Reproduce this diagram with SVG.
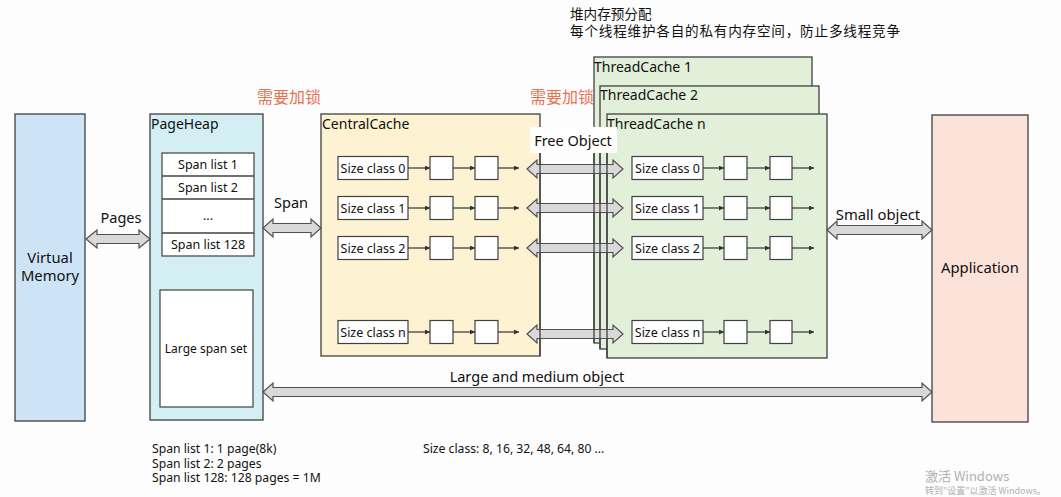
<svg xmlns="http://www.w3.org/2000/svg" width="1061" height="497" viewBox="0 0 1061 497">
<defs>
<style>
text{font-family:"Noto Sans","Noto Sans CJK SC",sans-serif;fill:#111}
.box{stroke:#404040;stroke-width:1.3}
.cell{fill:#ffffff;stroke:#404040;stroke-width:1.2}
.t12{font-size:12.5px}
.t14{font-size:14px}
.t15{font-size:14.8px}
.nt{font-size:12.2px}
.mid{text-anchor:middle}
.red{font-family:"Noto Sans CJK SC",sans-serif;font-size:16px;fill:#e8714f}
.cn{font-family:"Noto Sans CJK SC",sans-serif;font-size:13.6px;fill:#111}
.blk{fill:#d9d9d9;stroke:#505050;stroke-width:1.2;stroke-linejoin:miter}
.ln{stroke:#333;stroke-width:1.2;fill:none;marker-end:url(#ah)}
.edge{stroke:#404040;stroke-width:1.3}
.wm{font-family:"Noto Sans CJK SC",sans-serif;fill:#b0b0b0}
</style>
<marker id="ah" viewBox="0 0 6 6" refX="6" refY="3" markerWidth="5" markerHeight="5" markerUnits="userSpaceOnUse" orient="auto">
<path d="M0,0 L6,3 L0,6 Z" fill="#333"/>
</marker>
</defs>
<rect width="1061" height="497" fill="#fdfdfd"/>

<g id="top-notes">
<text class="cn" x="570" y="19">堆内存预分配</text>
<text class="cn" x="570" y="36" textLength="330" lengthAdjust="spacing">每个线程维护各自的私有内存空间，防止多线程竞争</text>
</g>
<g id="lock-labels">
<text class="red" x="257" y="103">需要加锁</text>
<text class="red" x="530" y="103">需要加锁</text>
</g>

<g id="virtual-memory">
<rect class="box" x="15" y="114" width="70" height="307" fill="#cde4f7"/>
<text class="t15 mid" x="50" y="263">Virtual</text>
<text class="t15 mid" x="50" y="281">Memory</text>
</g>

<g id="pageheap">
<rect class="box" x="150" y="114" width="113" height="306" fill="#d3eff4"/>
<text class="t14" x="151" y="129">PageHeap</text>
<rect class="cell" x="162" y="153" width="92" height="103"/>
<line class="edge" x1="162" y1="176" x2="254" y2="176"/>
<line class="edge" x1="162" y1="199" x2="254" y2="199"/>
<line class="edge" x1="162" y1="233" x2="254" y2="233"/>
<text class="t12 mid" x="208" y="169">Span list 1</text>
<text class="t12 mid" x="208" y="192">Span list 2</text>
<text class="t12 mid" x="208" y="220">...</text>
<text class="t12 mid" x="208" y="249">Span list 128</text>
<rect class="cell" x="160" y="290" width="93" height="117"/>
<text class="mid" style="font-size:12px" x="206" y="353">Large span set</text>
</g>

<g id="centralcache">
<rect class="box" x="321" y="114" width="219" height="242" fill="#fdf2d2"/>
<text class="t14" x="322" y="129">CentralCache</text>
<g id="cc-row0"><rect class="cell" x="338" y="156.5" width="70" height="23"/><text class="t12 mid" x="373" y="172.5">Size class 0</text><rect class="cell" x="430" y="156.5" width="23" height="23"/><rect class="cell" x="475" y="156.5" width="23" height="23"/></g>
<g id="cc-row1"><rect class="cell" x="338" y="196.5" width="70" height="23"/><text class="t12 mid" x="373" y="212.5">Size class 1</text><rect class="cell" x="430" y="196.5" width="23" height="23"/><rect class="cell" x="475" y="196.5" width="23" height="23"/></g>
<g id="cc-row2"><rect class="cell" x="338" y="236.5" width="70" height="23"/><text class="t12 mid" x="373" y="252.5">Size class 2</text><rect class="cell" x="430" y="236.5" width="23" height="23"/><rect class="cell" x="475" y="236.5" width="23" height="23"/></g>
<g id="cc-rown"><rect class="cell" x="338" y="320.5" width="70" height="23"/><text class="t12 mid" x="373" y="336.5">Size class n</text><rect class="cell" x="430" y="320.5" width="23" height="23"/><rect class="cell" x="475" y="320.5" width="23" height="23"/></g>
</g>

<g id="threadcache-1">
<rect class="box" x="594" y="57" width="218" height="286" fill="#e2efd9"/>
<text class="t14" x="594" y="72">ThreadCache 1</text>
</g>
<g id="threadcache-2">
<rect class="box" x="600" y="86" width="219" height="263" fill="#e2efd9"/>
<text class="t14" x="600" y="100">ThreadCache 2</text>
</g>
<g id="threadcache-n">
<rect class="box" x="607" y="114" width="220" height="244" fill="#e2efd9"/>
<text class="t14" x="607" y="129">ThreadCache n</text>
<g id="tc-row0"><rect class="cell" x="632" y="156.5" width="71" height="23"/><text class="t12 mid" x="667.5" y="172.5">Size class 0</text><rect class="cell" x="724" y="156.5" width="23" height="23"/><rect class="cell" x="770" y="156.5" width="22" height="23"/></g>
<g id="tc-row1"><rect class="cell" x="632" y="196.5" width="71" height="23"/><text class="t12 mid" x="667.5" y="212.5">Size class 1</text><rect class="cell" x="724" y="196.5" width="23" height="23"/><rect class="cell" x="770" y="196.5" width="22" height="23"/></g>
<g id="tc-row2"><rect class="cell" x="632" y="236.5" width="71" height="23"/><text class="t12 mid" x="667.5" y="252.5">Size class 2</text><rect class="cell" x="724" y="236.5" width="23" height="23"/><rect class="cell" x="770" y="236.5" width="22" height="23"/></g>
<g id="tc-rown"><rect class="cell" x="632" y="320.5" width="71" height="23"/><text class="t12 mid" x="667.5" y="336.5">Size class n</text><rect class="cell" x="724" y="320.5" width="23" height="23"/><rect class="cell" x="770" y="320.5" width="22" height="23"/></g>
</g>

<g id="application">
<rect class="box" x="932" y="115" width="96" height="307" fill="#fce3da"/>
<text class="t15 mid" x="980" y="273">Application</text>
</g>

<g id="connectors">
<path class="ln" d="M408,168 H430"/><path class="ln" d="M453,168 H475"/><path class="ln" d="M498,168 H519"/>
<path class="ln" d="M408,208 H430"/><path class="ln" d="M453,208 H475"/><path class="ln" d="M498,208 H519"/>
<path class="ln" d="M408,248 H430"/><path class="ln" d="M453,248 H475"/><path class="ln" d="M498,248 H519"/>
<path class="ln" d="M408,332 H430"/><path class="ln" d="M453,332 H475"/><path class="ln" d="M498,332 H519"/>
<path class="ln" d="M703,168 H724"/><path class="ln" d="M747,168 H770"/><path class="ln" d="M792,168 H814"/>
<path class="ln" d="M703,208 H724"/><path class="ln" d="M747,208 H770"/><path class="ln" d="M792,208 H814"/>
<path class="ln" d="M703,248 H724"/><path class="ln" d="M747,248 H770"/><path class="ln" d="M792,248 H814"/>
<path class="ln" d="M703,332 H724"/><path class="ln" d="M747,332 H770"/><path class="ln" d="M792,332 H814"/>

<path id="pages-arrow" class="blk" d="M86,239 L97,230 L97,234.5 L139,234.5 L139,230 L150,239 L139,248 L139,243.5 L97,243.5 L97,248 Z"/>
<path id="span-arrow" class="blk" d="M263,228 L273,219 L273,223.5 L311,223.5 L311,219 L321,228 L311,237 L311,232.5 L273,232.5 L273,237 Z"/>
<path class="blk" d="M527,169 L537,160 L537,164.5 L613,164.5 L613,160 L623,169 L613,178 L613,173.5 L537,173.5 L537,178 Z"/>
<path class="blk" d="M527,208 L537,199 L537,203.5 L613,203.5 L613,199 L623,208 L613,217 L613,212.5 L537,212.5 L537,217 Z"/>
<path class="blk" d="M527,248 L537,239 L537,243.5 L613,243.5 L613,239 L623,248 L613,257 L613,252.5 L537,252.5 L537,257 Z"/>
<path class="blk" d="M527,334 L537,325 L537,329.5 L613,329.5 L613,325 L623,334 L613,343 L613,338.5 L537,338.5 L537,343 Z"/>
<path id="small-arrow" class="blk" d="M827,230 L837,221 L837,225.5 L922,225.5 L922,221 L932,230 L922,239 L922,234.5 L837,234.5 L837,239 Z"/>
<path id="large-arrow" class="blk" d="M263,392 L273,383 L273,387.5 L922,387.5 L922,383 L932,392 L922,401 L922,396.5 L273,396.5 L273,401 Z"/>

<line class="edge" x1="540" y1="153" x2="540" y2="356"/>
<line class="edge" x1="594" y1="153" x2="594" y2="343"/>
<line class="edge" x1="600" y1="153" x2="600" y2="349"/>
<line class="edge" x1="607" y1="153" x2="607" y2="358"/>

<rect x="530" y="127" width="87" height="26" fill="#ffffff"/>
<text class="mid" style="font-size:14.5px" x="573" y="146">Free Object</text>
<text class="mid" style="font-size:14.5px" x="121" y="223">Pages</text>
<text class="mid" style="font-size:14.5px" x="291" y="208">Span</text>
<text class="mid" style="font-size:14.8px" x="878" y="220">Small object</text>
<text class="mid" style="font-size:14.5px" x="537" y="382">Large and medium object</text>
</g>

<g id="notes">
<text class="nt" x="152" y="453">Span list 1: 1 page(8k)</text>
<text class="nt" x="152" y="467.5">Span list 2: 2 pages</text>
<text class="nt" x="152" y="482">Span list 128: 128 pages = 1M</text>
<text class="nt" x="423" y="453">Size class: 8, 16, 32, 48, 64, 80 ...</text>
</g>

<g id="watermark">
<text class="wm" style="font-size:13px" x="925" y="481">激活 Windows</text>
<text class="wm" style="font-size:9px" x="925" y="494">转到"设置"以激活 Windows。</text>
</g>
</svg>
